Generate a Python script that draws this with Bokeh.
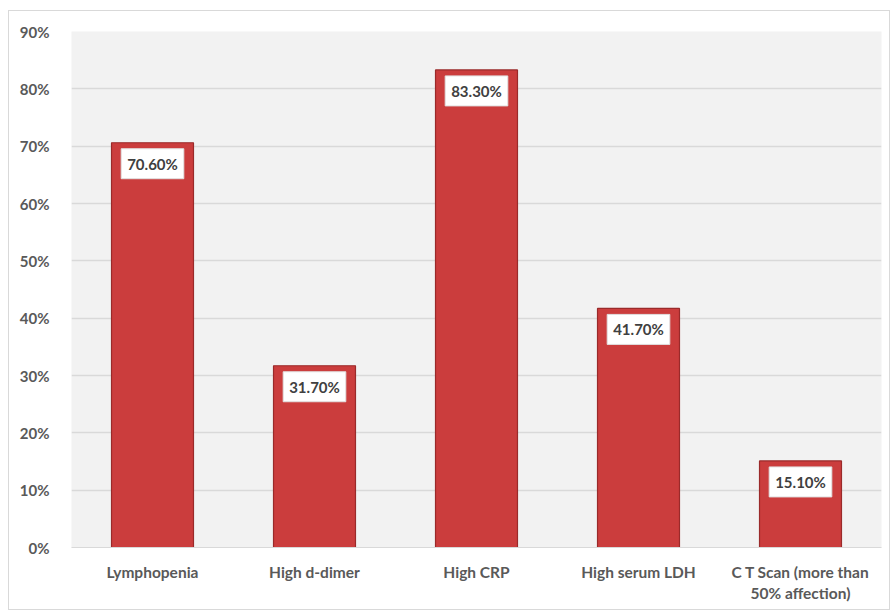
from bokeh.plotting import figure
from bokeh.models import ColumnDataSource, NumeralTickFormatter, FixedTicker
from bokeh.core.properties import value
from bokeh.embed import file_html
from bokeh.resources import INLINE

categories = ["Lymphopenia", "High d-dimer", "High CRP", "High serum LDH", "C T Scan (more than\n50% affection)"]
values = [0.706, 0.317, 0.833, 0.417, 0.151]
value_labels = ["70.60%", "31.70%", "83.30%", "41.70%", "15.10%"]
y_ticks = [0, 0.1, 0.2, 0.3, 0.4, 0.5, 0.6, 0.7, 0.8, 0.9]

src = ColumnDataSource(dict(cat=categories, val=values, lab=value_labels))

p = figure(x_range=categories, y_range=(0, 0.9), width=882, height=600,
           output_backend="svg", toolbar_location=None,
           min_border_left=62, min_border_right=10, min_border_top=20, min_border_bottom=64,
           margin=(10, 0, 0, 8))
p.styles = {"border": "1px solid #d9d9d9"}
p.background_fill_color = "#f2f2f2"
p.border_fill_color = "white"
p.outline_line_color = None

p.vbar(x="cat", top="val", width=0.506, source=src, fill_color="#cb3d3d",
       line_color="#9a2a2a", line_width=1.2)

p.text(x="cat", y="val", text="lab", source=src, y_offset=21,
       text_align="center", text_baseline="middle",
       text_font=value("Lato"), text_font_style="bold", text_font_size="15px",
       text_color="#404040", background_fill_color="white",
       border_line_color="#e0e0e0", padding=6)

p.yaxis.ticker = FixedTicker(ticks=y_ticks)
p.yaxis.formatter = NumeralTickFormatter(format="0%")
p.yaxis.major_label_text_font = "Lato"
p.yaxis.major_label_text_font_style = "bold"
p.yaxis.major_label_text_font_size = "15px"
p.yaxis.major_label_text_color = "#595959"
p.yaxis.axis_line_color = None
p.yaxis.major_tick_line_color = None
p.yaxis.minor_tick_line_color = None
p.yaxis.major_label_standoff = 16

p.xaxis.major_label_text_font = "Lato"
p.xaxis.major_label_text_font_style = "bold"
p.xaxis.major_label_text_font_size = "15.5px"
p.xaxis.major_label_text_color = "#595959"
p.xaxis.major_label_text_line_height = 1.2
p.xaxis.axis_line_color = "#d9d9d9"
p.xaxis.major_tick_line_color = None
p.xaxis.minor_tick_line_color = None
p.xaxis.major_label_standoff = 9

p.xgrid.grid_line_color = None
p.ygrid.grid_line_color = "#d9d9d9"
p.ygrid.grid_line_width = 1.5

open("out.html", "w").write(file_html(p, INLINE))
